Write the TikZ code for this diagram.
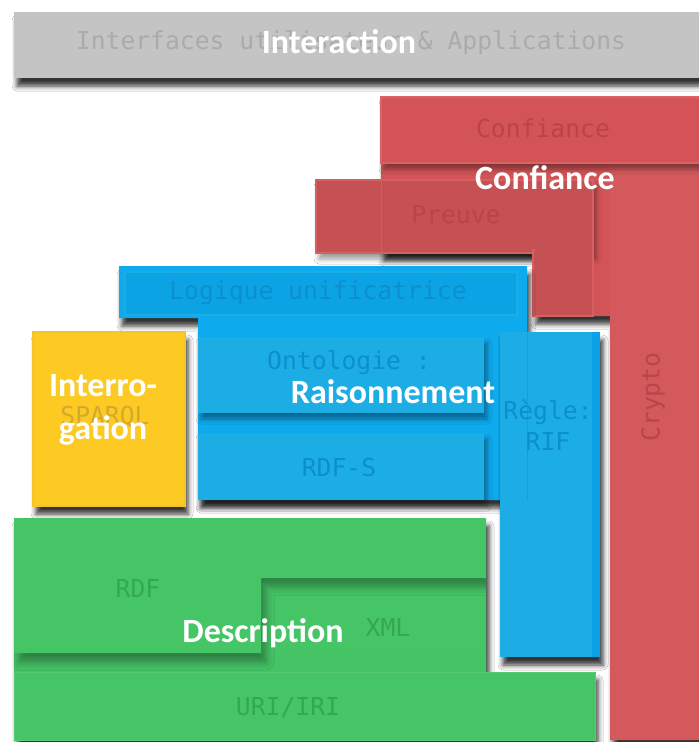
\documentclass[tikz,border=0pt]{standalone}
\usepackage{fontspec}
\setmainfont{Carlito}
\newfontfamily\monof{DejaVu Sans Mono}
\usetikzlibrary{shadows.blur}
\definecolor{grayF}{HTML}{C4C4C4}
\definecolor{grayT}{HTML}{ABABAB}
\definecolor{redG}{HTML}{D35457}
\definecolor{redB}{HTML}{D45356}
\definecolor{redP}{HTML}{C55154}
\definecolor{redL}{HTML}{DA6366}
\definecolor{redT}{HTML}{BA4448}
\definecolor{blueG}{HTML}{0DAAEE}
\definecolor{blueB}{HTML}{1DADE5}
\definecolor{blueD}{HTML}{0AA1E8}
\definecolor{blueT}{HTML}{0C8FCF}
\definecolor{greenG}{HTML}{45C466}
\definecolor{greenB}{HTML}{46C567}
\definecolor{greenT}{HTML}{33A853}
\definecolor{yelG}{HTML}{FDC923}
\definecolor{yelL}{HTML}{F5C32A}
\definecolor{yelT}{HTML}{D4A930}
\begin{document}
\begin{tikzpicture}[x=1pt,y=-1pt,
  shad/.style={blur shadow={shadow xshift=3pt,shadow yshift=-8pt,shadow blur radius=5pt,shadow opacity=80}},
  shads/.style={blur shadow={shadow xshift=3pt,shadow yshift=-6pt,shadow blur radius=5pt,shadow opacity=40}},
  lbl/.style={font=\fontsize{34}{43}\selectfont\bfseries, text=white, inner sep=0pt, align=center},
  mono/.style={font=\monof\fontsize{24.7}{31}\selectfont, inner sep=0pt, align=center}]
\useasboundingbox (0,0) rectangle (699,742);
\fill[white] (0,0) rectangle (699,742);
% gray bar
\fill[grayF, shad] (14,12) rectangle (720,78);
\node[mono, text=grayT] (tiface) at (351,43) {Interfaces utilisateur \& Applications};
% red group
\fill[redG, shad] (381,97) -- (720,97) -- (720,740) -- (610,740) -- (610,316) -- (533,316) -- (533,253) -- (381,253) -- cycle;
\fill[redG!97!white] (610,163) rectangle (720,740);
\fill[redB, draw=redL, line width=1.5pt, shads] (381,97) rectangle (720,163);
\fill[redP, draw=redL!80!redP, line width=1.5pt, shads] (316,180) rectangle (593,253);
\fill[redP, draw=redL!80!redP, line width=1.5pt] (533,250) rectangle (593,316);
\fill[redP] (534.5,245) rectangle (591.5,254);
\draw[redL!60!redP, line width=1pt] (381,181) -- (381,252);
\node[mono, text=redT] (tconf) at (543,128) {Confiance};
\node[mono, text=redT] (tpreuve) at (456,215) {Preuve};
\node[mono, text=redT, rotate=90] (tcrypto) at (653,397) {Crypto};
% blue group
\fill[blueG, shad] (119,266) -- (527,266) -- (527,500) -- (198,500) -- (198,318) -- (119,318) -- cycle;
\fill[blueG!96!black, draw=blueB, line width=1.5pt] (125,272) rectangle (517,315);
\fill[blueB, shads] (198,337) rectangle (484,413);
\fill[blueB, shads] (198,433) rectangle (484,500);
\fill[blueB, shad] (500,332) rectangle (600,657);
\fill[blueD] (592,332) rectangle (600,657);
\draw[blueD, line width=0.8pt] (527,333) -- (527,500);
\node[mono, text=blueT] (tlog) at (318,293) {Logique unificatrice};
\node[mono, text=blueT] (tonto) at (349,363) {Ontologie :};
\node[mono, text=blueT] (trdfs) at (339,468) {RDF-S};
\node[mono, text=blueT] (tregle) at (548,425) {Règle:\\RIF};
% yellow
\fill[yelG, draw=yelL, line width=1.5pt, shad] (33,332) rectangle (185,506);
\node[mono, text=yelT] (tsparql) at (105,417) {SPARQL};
% green group
\fill[greenG, shad] (14,518) -- (486,518) -- (486,672) -- (595,672) -- (595,740) -- (14,740) -- cycle;
\begin{scope}
\clip (14,518) -- (486,518) -- (486,672) -- (595,672) -- (595,740) -- (14,740) -- cycle;
\fill[greenB] (261,578) rectangle (486,653);
\fill[greenB, blur shadow={shadow xshift=5pt,shadow yshift=-9pt,shadow blur radius=8pt,shadow opacity=35}] (14,518) -- (486,518) -- (486,578) -- (261,578) -- (261,653) -- (14,653) -- cycle;
\end{scope}
\fill[greenB, draw=greenG!90!white, line width=1pt] (14,672) rectangle (595,740);
\node[mono, text=greenT] (trdf) at (138,588) {RDF};
\node[mono, text=greenT] (txml) at (388,627) {XML};
\node[mono, text=greenT] (turi) at (288,708) {URI/IRI};
% white labels
\node[lbl] (linter) at (339,42) {Interaction};
\node[lbl] (lconf) at (545,178) {Confiance};
\node[lbl] (lrais) at (393,392) {Raisonnement};
\node[lbl] (lintg) at (103,410) {Interro-\\gation};
\node[lbl] (ldesc) at (263,633) {Description};
\end{tikzpicture}
\end{document}
